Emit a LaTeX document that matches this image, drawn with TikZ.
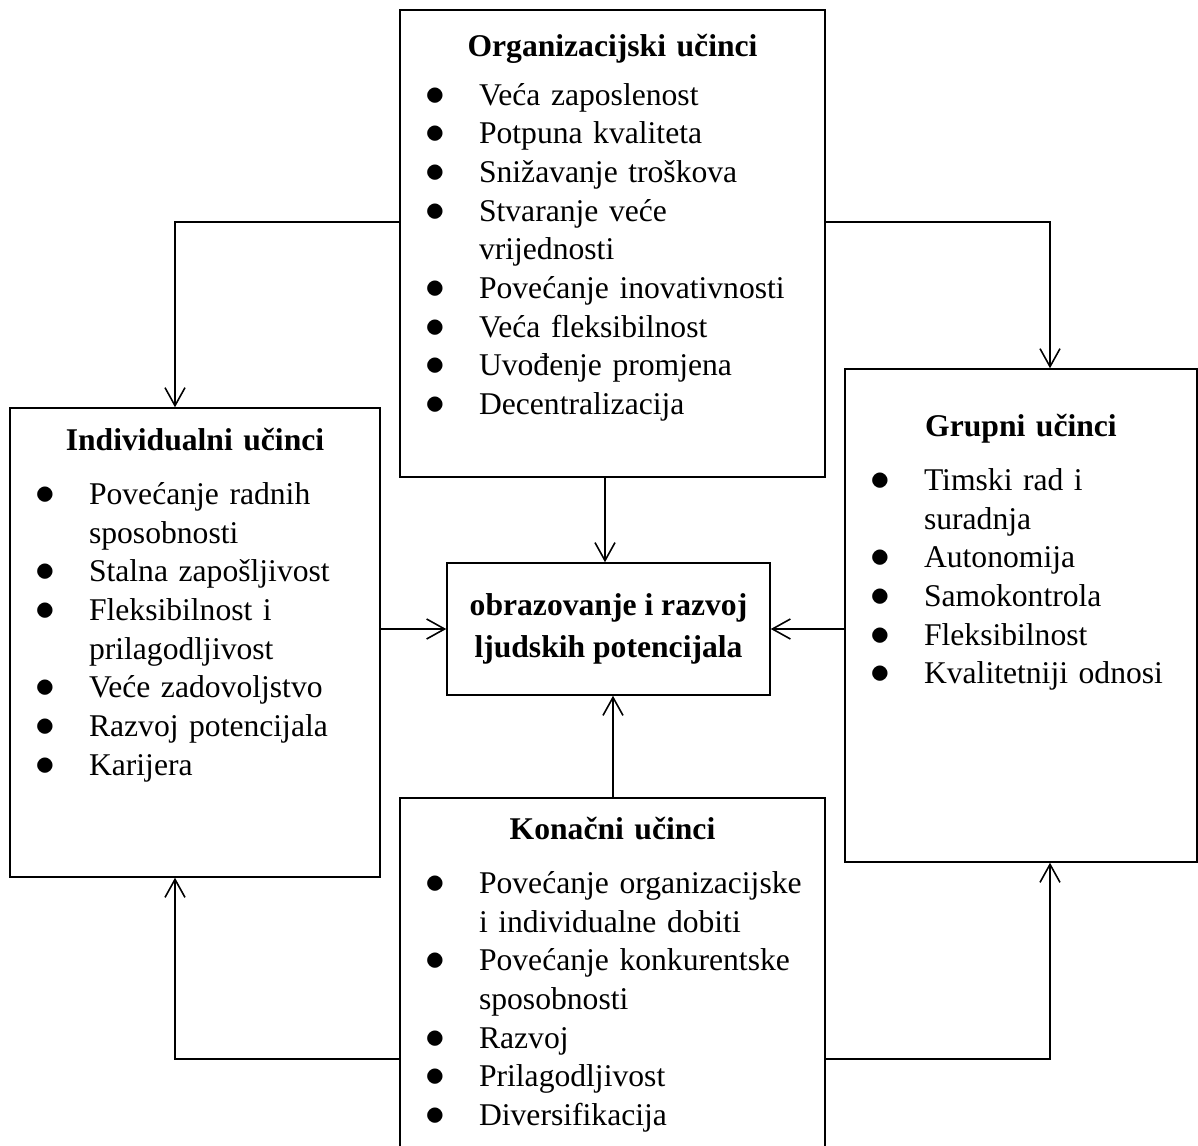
\documentclass[tikz,border=0pt]{standalone}
\usepackage{fontspec}
\setmainfont{Liberation Serif}
\usepackage{graphicx}
\usepackage{enumitem}
\usetikzlibrary{arrows.meta}

\setlist[itemize]{label=\makebox[0pt]{\scalebox{1.3}{$\bullet$}}, leftmargin=1.38cm, labelwidth=0pt, labelsep=0.88cm, align=left, itemsep=0pt, parsep=0pt, partopsep=0pt, topsep=9pt}

\begin{document}
\begin{tikzpicture}[x=0.02cm, y=-0.02cm]
		\tikzset{box/.style={shape = rectangle, draw, line width = 0.9pt, inner sep = 0pt}}
		\tikzset{lista/.style={anchor = base, inner sep = 0pt, text width = #1, font = \fontsize{18}{22}\selectfont}}
		\tikzset{edge/.style={-{Straight Barb[length = 0.36cm, width = 0.4cm]}, line width = 0.9pt}}
		\useasboundingbox (0,0) rectangle (1198,1146);
		%boxes
		\node[box, minimum width = 8.5cm, minimum height = 9.34cm] (org) at (612.5, 243.5) {};
		\node[box, minimum width = 7.4cm, minimum height = 9.38cm] (ind) at (195, 642.5) {};
		\node[box, minimum width = 7.04cm, minimum height = 9.86cm] (grp) at (1021, 615.5) {};
		\node[box, minimum width = 8.5cm, minimum height = 8.04cm] (kon) at (612.5, 999) {};
		\node[box, minimum width = 6.46cm, minimum height = 2.64cm, align = center,
			font = \fontsize{18}{23}\selectfont\bfseries] (obr) at (608.5, 629)
			{obrazovanje i razvoj\\[1pt]ljudskih potencijala};
		%texts
		\node[lista = 8.1cm] (orgtxt) at (612.5, 56) {\raggedright
			{\centering\bfseries Organizacijski učinci\par}
			\begin{itemize}[topsep = 6pt]
				\item Veća zaposlenost
				\item Potpuna kvaliteta
				\item Snižavanje troškova
				\item Stvaranje veće\newline vrijednosti
				\item Povećanje inovativnosti
				\item Veća fleksibilnost
				\item Uvođenje promjena
				\item Decentralizacija
			\end{itemize}};
		\node[lista = 7.0cm] (indtxt) at (195, 450) {\raggedright
			{\centering\bfseries Individualni učinci\par}
			\begin{itemize}
				\item Povećanje radnih\newline sposobnosti
				\item Stalna zapošljivost
				\item Fleksibilnost i\newline prilagodljivost
				\item Veće zadovoljstvo
				\item Razvoj potencijala
				\item Karijera
			\end{itemize}};
		\node[lista = 6.64cm] (grptxt) at (1021, 436) {\raggedright
			{\centering\bfseries Grupni učinci\par}
			\begin{itemize}
				\item Timski rad i\newline suradnja
				\item Autonomija
				\item Samokontrola
				\item Fleksibilnost
				\item Kvalitetniji odnosi
			\end{itemize}};
		\node[lista = 8.1cm] (kontxt) at (612.5, 839) {\raggedright
			{\centering\bfseries Konačni učinci\par}
			\begin{itemize}
				\item Povećanje organizacijske\newline i individualne dobiti
				\item Povećanje konkurentske\newline sposobnosti
				\item Razvoj
				\item Prilagodljivost
				\item Diversifikacija
			\end{itemize}};
		%edges
		\draw[edge] (org.west |- 0,222) -| (ind.north -| 175,0);
		\draw[edge] (org.east |- 0,222) -| (grp.north -| 1050,0);
		\draw[edge] (org.south -| 605,0) -- (obr.north -| 605,0);
		\draw[edge] (ind.east |- obr.west) -- (obr.west);
		\draw[edge] (grp.west |- obr.east) -- (obr.east);
		\draw[edge] (kon.north -| 613,0) -- (obr.south -| 613,0);
		\draw[edge] (kon.west |- 0,1059) -| (ind.south -| 175,0);
		\draw[edge] (kon.east |- 0,1059) -| (grp.south -| 1050,0);
\end{tikzpicture}
\end{document}
